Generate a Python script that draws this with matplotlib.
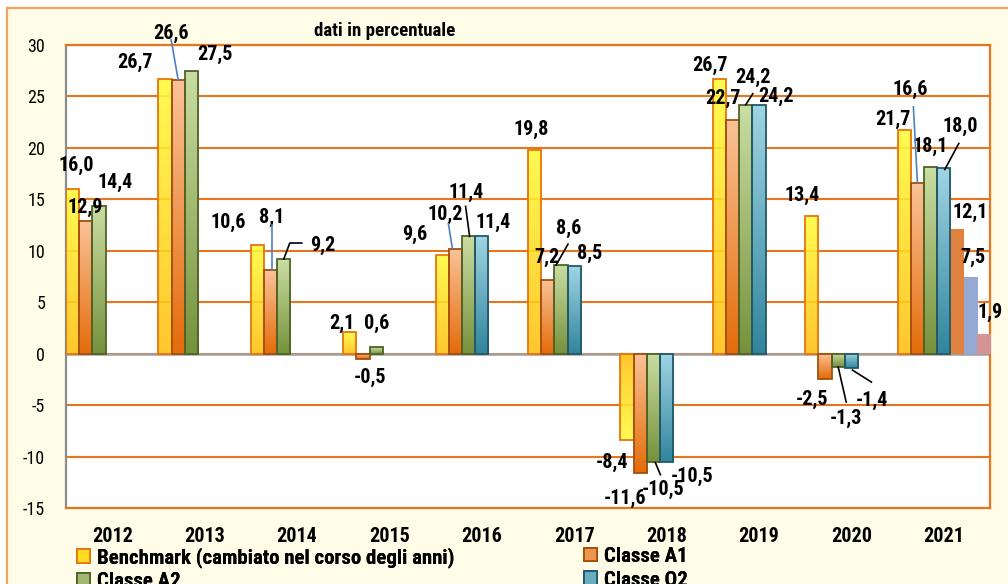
import numpy as np
import matplotlib
matplotlib.use("Agg")
import matplotlib.pyplot as plt
from matplotlib import font_manager
from matplotlib.patches import Rectangle, Patch
from matplotlib.lines import Line2D
from matplotlib.transforms import IdentityTransform

# ---------------- data ----------------
years = ['2012', '2013', '2014', '2015', '2016', '2017', '2018', '2019', '2020', '2021']
benchmark = [16.0, 26.7, 10.6, 2.1, 9.6, 19.8, -8.4, 26.7, 13.4, 21.7]
classe_a1 = [12.9, 26.6, 8.1, -0.5, 10.2, 7.2, -11.6, 22.7, -2.5, 16.6]
classe_a2 = [14.4, 27.5, 9.2, 0.6, 11.4, 8.6, -10.5, 24.2, -1.3, 18.1]
classe_q2 = [None, None, None, None, 11.4, 8.5, -10.5, 24.2, -1.4, 18.0]
extra_1 = [None] * 9 + [12.1]
extra_2 = [None] * 9 + [7.5]
extra_3 = [None] * 9 + [1.9]
series_names = ['Benchmark (cambiato nel corso degli anni)', 'Classe A1', 'Classe A2', 'Classe Q2']
title_text = 'dati in percentuale'
y_ticks = [-15, -10, -5, 0, 5, 10, 15, 20, 25, 30]

series = [benchmark, classe_a1, classe_a2, classe_q2, extra_1, extra_2, extra_3]

# ---------------- fonts ----------------
installed = {f.name for f in font_manager.fontManager.ttflist}
narrow = None
for cand in ['Liberation Sans Narrow', 'Arial Narrow', 'Roboto Condensed', 'DejaVu Sans Condensed']:
    if cand in installed:
        narrow = cand
        break
if narrow is not None:
    FONT = [narrow, 'DejaVu Sans']
    SZ = dict(label=14.5, xt=14.5, yt=13, leg=15, title=13.6)
else:
    FONT = ['Liberation Sans', 'DejaVu Sans']
    SZ = dict(label=12.9, xt=12.8, yt=11.6, leg=12.7, title=12.6)
plt.rcParams['font.family'] = FONT

W, H = 1008, 584
DPI = 100
ORANGE = '#E8741C'
# (top colour, bottom colour, edge colour, gradient mode, alpha)
styles = [
    ('#FFFA3A', '#FFC010', '#E8740E', 'end', 0.88),
    ('#FAC297', '#E46C0A', '#A24F0C', 'abs', 1.0),
    ('#CADDA2', '#76923C', '#4F6228', 'abs', 1.0),
    ('#9FD4E4', '#31859C', '#215968', 'abs', 1.0),
    ('#E0823F', '#E0823F', None, 'abs', 1.0),
    ('#95A9D3', '#95A9D3', None, 'abs', 1.0),
    ('#D69494', '#D69494', None, 'abs', 1.0),
]
n_slots = 7
bar_w = 1.0 / n_slots

# label offsets in screen pixels (dx right, dy down) relative to bar end
label_off = {
    (0, 0): (4, -24), (1, 0): (-1, -14), (2, 0): (16, -23),
    (0, 1): (-30, -17), (1, 1): (-7, -47), (2, 1): (24, -16),
    (0, 2): (-29, -22), (1, 2): (1, -53), (2, 2): (39, -14),
    (0, 3): (-8, -9), (1, 3): (7, 19), (2, 3): (0, -24),
    (0, 4): (-27, -20), (1, 4): (-10, -34), (2, 4): (-2, -44), (3, 4): (11, -14),
    (0, 5): (-3, -21), (1, 5): (-1, -22), (2, 5): (8, -37), (3, 5): (15, -13),
    (0, 6): (-15, 22), (1, 6): (-15, 25), (2, 6): (10, 28), (3, 6): (25, 15),
    (0, 7): (-9, -14), (1, 7): (-10, -22), (2, 7): (7, -27), (3, 7): (17, -8),
    (0, 8): (-10, -20), (1, 8): (-13, 20), (2, 8): (8, 51), (3, 8): (21, 32),
    (0, 9): (-11, -11), (1, 9): (-7, -93), (2, 9): (0, -21), (3, 9): (16, -42),
    (4, 9): (13, -17), (5, 9): (3, -19), (6, 9): (7, -22),
}
BLUE_L = '#4F81BD'
leaders = {
    (1, 1): ([(0, 0), (-7, -40)], BLUE_L),
    (1, 2): ([(1, 0), (1, -45)], BLUE_L),
    (2, 2): ([(0, 0), (6, -16), (18, -16)], 'black'),
    (1, 4): ([(-3, 0), (-7, -25)], BLUE_L),
    (2, 4): ([(1, 0), (-3, -30)], 'black'),
    (2, 5): ([(-5, 0), (7, -21)], 'black'),
    (2, 6): ([(2, 1), (7, 13)], 'black'),
    (2, 7): ([(0, 0), (7, -11)], 'black'),
    (2, 8): ([(0, 0), (8, 35)], 'black'),
    (3, 8): ([(1, 2), (20, 14)], 'black'),
    (1, 9): ([(0, 0), (-4, -76)], BLUE_L),
    (3, 9): ([(1, 1), (15, -25)], 'black'),
}

# ---------------- figure ----------------
fig = plt.figure(figsize=(W / DPI, H / DPI), dpi=DPI, facecolor='white')
# outer cream panel with orange border
fig.patches.append(Rectangle((7 / W, -0.05), 1.2, 1 - 8 / H + 0.05, transform=fig.transFigure,
                             facecolor='#FFFDE8', edgecolor='#F4A262', lw=1.6, zorder=-5))

ax_l, ax_r, ax_t, ax_b = 66, 990, 45, 508
ax = fig.add_axes([ax_l / W, 1 - ax_b / H, (ax_r - ax_l) / W, (ax_b - ax_t) / H])
ax.set_zorder(2)
ax.set_facecolor('white')
ax.set_xlim(-0.5, len(years) - 0.5)
ax.set_ylim(-15, 30)
ax.set_yticks(y_ticks)
ax.set_yticklabels([str(t) for t in y_ticks], fontsize=SZ['yt'])
ax.set_xticks(range(len(years)))
ax.set_xticklabels(years, fontsize=SZ['xt'], fontweight='bold')
ax.tick_params(axis='both', length=0)
ax.tick_params(axis='y', pad=15)
ax.tick_params(axis='x', pad=14)

ax.yaxis.grid(True, color=ORANGE, lw=1.5, zorder=0)
ax.set_axisbelow(True)
for s in ['top', 'right', 'bottom']:
    ax.spines[s].set_color(ORANGE)
    ax.spines[s].set_linewidth(1.6)
ax.spines['left'].set_color('#8C8C8C')
ax.spines['left'].set_linewidth(1.6)
ax.axhline(0, color='#A0A0A0', lw=1.8, zorder=1.5)


def hex2rgb(h):
    h = h.lstrip('#')
    return np.array([int(h[i:i + 2], 16) / 255 for i in (0, 2, 4)])


for j, vals in enumerate(series):
    ctop, cbot, edge, mode, alpha = styles[j]
    xs = [i + (j - 3) / n_slots for i in range(len(years))]
    hv = [(x, v) for x, v in zip(xs, vals) if v is not None]
    if not hv:
        continue
    bx = [p[0] for p in hv]
    bv = [p[1] for p in hv]
    bars = ax.bar(bx, bv, width=bar_w, facecolor='none',
                  edgecolor=edge if edge else 'none', lw=1.3, zorder=3.2)
    for patch, v in zip(bars.patches, bv):
        x0 = patch.get_x()
        w = patch.get_width()
        y0, y1 = min(0, v), max(0, v)
        a, b = hex2rgb(ctop), hex2rgb(cbot)
        if mode == 'end' and v < 0:
            a, b = b, a
        t = np.linspace(0, 1, 64)[:, None]
        grad = (1 - t) * a + t * b
        im = ax.imshow(grad[:, None, :], extent=(x0, x0 + w, y0, y1), origin='upper',
                       aspect='auto', interpolation='bilinear', zorder=3, alpha=alpha)
        im.set_clip_path(patch)

ax.set_xlim(-0.5, len(years) - 0.5)
ax.set_ylim(-15, 30)

# data labels and leader lines
fig.canvas.draw()
for j, vals in enumerate(series):
    for i, v in enumerate(vals):
        if v is None:
            continue
        x = i + (j - 3) / n_slots
        dx, dy = label_off[(j, i)]
        ax.annotate(f"{v:.1f}".replace('.', ','), xy=(x, v), xycoords='data',
                    xytext=(dx, -dy), textcoords='offset pixels',
                    ha='center', va='center', fontsize=SZ['label'], fontweight='bold',
                    color='black', zorder=6, annotation_clip=False)
        if (j, i) in leaders:
            pts, col = leaders[(j, i)]
            px, py = ax.transData.transform((x, v))
            lx = [px + p[0] for p in pts]
            ly = [py - p[1] for p in pts]
            ln = Line2D(lx, ly, transform=IdentityTransform(), color=col, lw=1.2, zorder=7)
            ln.set_clip_on(False)
            ax.add_artist(ln)

# title
fig.text(385 / W, 1 - 31 / H, title_text, ha='center', va='center', fontsize=SZ['title'],
         fontweight='bold')


# legend: two columns placed at the reference positions
def make_handle(k):
    ctop, cbot, edge, mode, alpha = styles[k]
    mid = tuple((hex2rgb(ctop) + hex2rgb(cbot)) / 2)
    return Patch(facecolor=mid, edgecolor=edge, lw=1.3)


leg_kw = dict(loc='upper left', frameon=False, borderpad=0, borderaxespad=0,
              handlelength=0.62, handleheight=0.62, handletextpad=0.32,
              labelspacing=0.2, prop={'family': FONT, 'weight': 'bold', 'size': SZ['leg']})
for cols, xpx in [([0, 2], 77), ([1, 3], 584)]:
    lg = fig.legend([make_handle(k) for k in cols], [series_names[k] for k in cols],
                    bbox_to_anchor=(xpx / W, 1 - 547 / H), **leg_kw)
    fig.add_artist(lg)

fig.savefig('out.png', dpi=DPI, facecolor=fig.get_facecolor())
